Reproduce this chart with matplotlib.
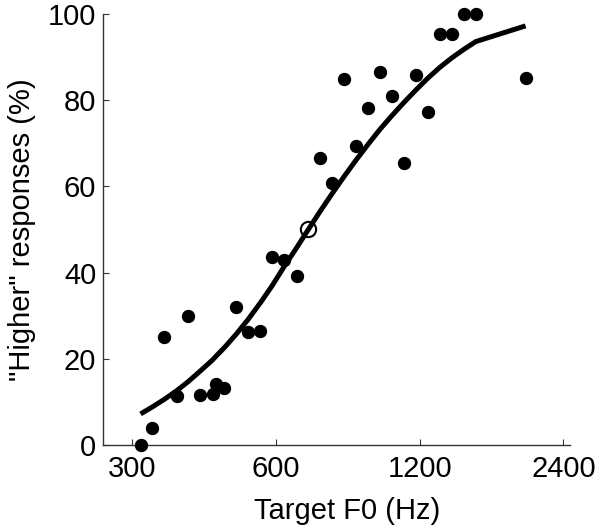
import matplotlib.pyplot as plt
from matplotlib.ticker import FixedLocator, NullLocator

plt.rcParams['font.family'] = ['Liberation Sans', 'DejaVu Sans']

# target F0 (Hz) and percent "higher" responses
f0 = [312, 330, 350, 372, 393, 416, 442, 449, 467, 495, 524, 556, 589, 623,
      662, 742, 785, 834, 882, 935, 990, 1050, 1111, 1177, 1247, 1322,
      1399, 1485, 1573, 1999]
higher = [0, 4, 25, 11.4, 30, 11.6, 11.8, 14.1, 13.2, 31.9, 26.1, 26.5,
          43.5, 42.9, 39.2, 66.6, 60.8, 84.9, 69.4, 78.2, 86.4, 80.9, 65.3,
          85.7, 77.3, 95.4, 95.3, 100, 100, 85.1]

# midpoint (open circle)
mid_f0 = 701
mid_val = 50

# fitted curve
fit_f0 = [312, 330, 350, 372, 393, 416, 442, 449, 467, 495, 524, 556, 589,
          623, 662, 701, 742, 785, 834, 882, 935, 990, 1050, 1111, 1177, 1247,
          1322, 1399, 1485, 1573, 1999]
fit_val = [7.2, 8.8, 10.6, 12.65, 14.74, 17.14, 19.78, 20.61, 22.53, 25.71,
           29.1, 32.97, 36.99, 41.3, 45.7, 50.0, 54.2, 58.2, 62.35, 66.06,
           69.72, 73.2, 76.44, 79.4, 82.3, 85.06, 87.58, 89.74, 91.77, 93.57,
           97.2]

fig = plt.figure(figsize=(6, 5.31), dpi=100)
ax = fig.add_axes([0.172, 0.162, 0.778, 0.812])

ax.plot(fit_f0, fit_val, color='black', lw=3.6, solid_capstyle='butt',
        solid_joinstyle='round', zorder=2)
ax.plot(f0, higher, 'o', color='black', ms=8.6, clip_on=False, zorder=3)
ax.plot([mid_f0], [mid_val], 'o', mfc='none', mec='black', mew=1.5, ms=11,
        clip_on=False, zorder=3)

ax.set_xscale('log')
ax.set_xlim(260.5, 2477)
ax.set_ylim(0, 100)
ax.xaxis.set_major_locator(FixedLocator([300, 600, 1200, 2400]))
ax.xaxis.set_minor_locator(NullLocator())
ax.set_xticklabels(['300', '600', '1200', '2400'])
ax.set_yticks([0, 20, 40, 60, 80, 100])

for s in ['top', 'right']:
    ax.spines[s].set_visible(False)
for s in ['left', 'bottom']:
    ax.spines[s].set_color('#333333')
    ax.spines[s].set_linewidth(1.0)

ax.tick_params(direction='in', length=4, width=0.8, color='#333333',
               labelsize=21)
ax.tick_params(axis='y', pad=5)
ax.tick_params(axis='x', pad=7)

ax.set_xlabel('Target F0 (Hz)', fontsize=21)
ax.set_ylabel('"Higher" responses (%)', fontsize=21)
ax.xaxis.set_label_coords(0.522, -0.152, transform=ax.transAxes)
ax.xaxis.label.set_va('center')
ax.yaxis.set_label_coords(-0.175, 0.5, transform=ax.transAxes)
ax.yaxis.label.set_va('center')

fig.savefig('out.png', dpi=100)
